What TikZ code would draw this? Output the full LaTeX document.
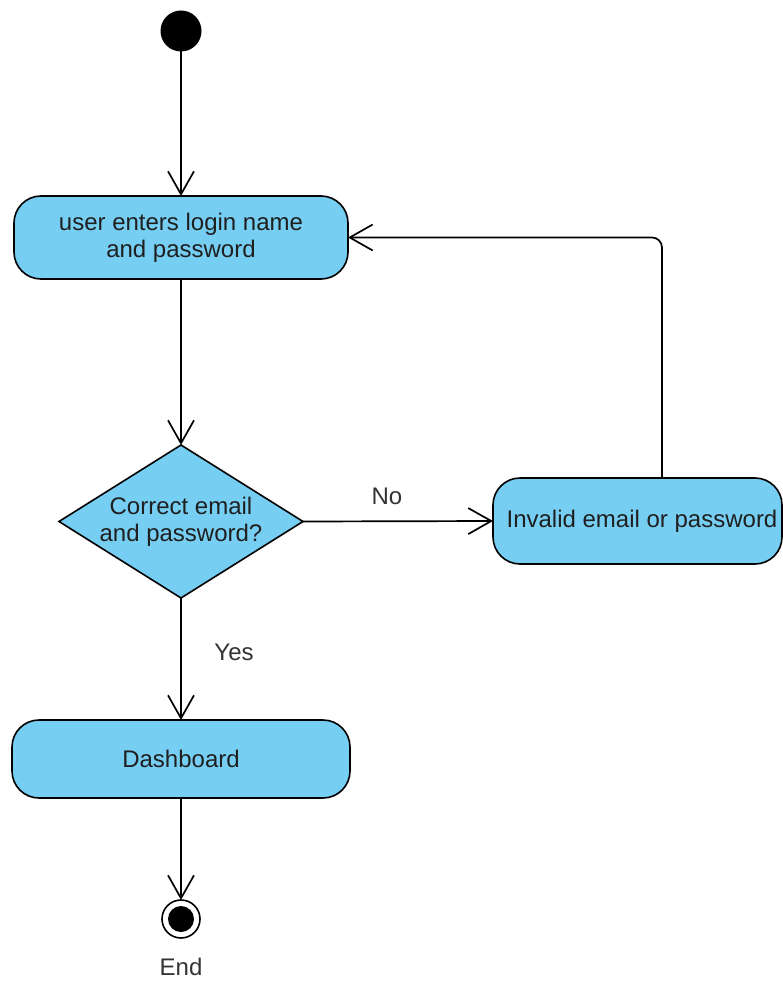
\documentclass[tikz,border=0pt]{standalone}
\usepackage{fontspec}
\setmainfont{Liberation Sans}
\usetikzlibrary{arrows.meta,shapes.geometric,calc}
\definecolor{actfill}{RGB}{118,206,243}
\definecolor{labtext}{RGB}{51,51,51}
\begin{document}
\begin{tikzpicture}[x=1pt,y=-1pt,
  font=\fontsize{24}{27}\selectfont,
  every node/.style={inner sep=0pt, outer sep=0pt},
  act/.style={draw=black, fill=actfill, line width=1.6pt, rounded corners=27pt,
              align=center, text=black!88},
  decision/.style={diamond, draw=black, fill=actfill, line width=1.6pt},
  flow/.style={draw=black, line width=1.7pt,
               -{Straight Barb[length=23pt,width=26pt,line width=1.7pt]}},
  lbl/.style={text=labtext}]
\useasboundingbox (0,0) rectangle (783,981);

% start and end states
\node[circle, fill=black, minimum size=41pt] (start) at (181,31) {};
\node[circle, draw=black, line width=1.6pt, fill=white, minimum size=38pt] (stop) at (181,919) {};
\node[circle, fill=black, minimum size=26pt] (stopdot) at (181,919) {};
\node[lbl] (endlbl) at (181,967) {End};

% activities
\node[act, minimum width=334pt, minimum height=83pt] (login) at (181,237.5)
  {user enters login name\\and password};
\node[decision, minimum width=244pt, minimum height=153pt] (check) at (181,521.5) {};
\node[align=center, text=black!88] (checktext) at (181,521.5) {Correct email\\and password?};
\node[act, minimum width=289pt, minimum height=86pt] (invalid) at (637.5,521) {};
\node[text=black!88] (invalidtext) at (642,521) {Invalid email or password};
\node[act, minimum width=338pt, minimum height=78pt] (dash) at (181,759) {Dashboard};

% guard labels
\node[lbl] (nolbl) at (387,496) {No};
\node[lbl] (yeslbl) at (234,652) {Yes};

% connectors
\coordinate (retx) at (662,0);
\draw[flow] (start) -- (login.north);
\draw[flow] (login.south) -- (check.north);
\draw[flow] (check.east) -- (invalid.west);
\draw[flow, rounded corners=10pt] (retx |- invalid.north) |- (login.east);
\draw[flow] (check.south) -- (dash.north);
\draw[flow] (dash.south) -- (stop.north);
\end{tikzpicture}
\end{document}
